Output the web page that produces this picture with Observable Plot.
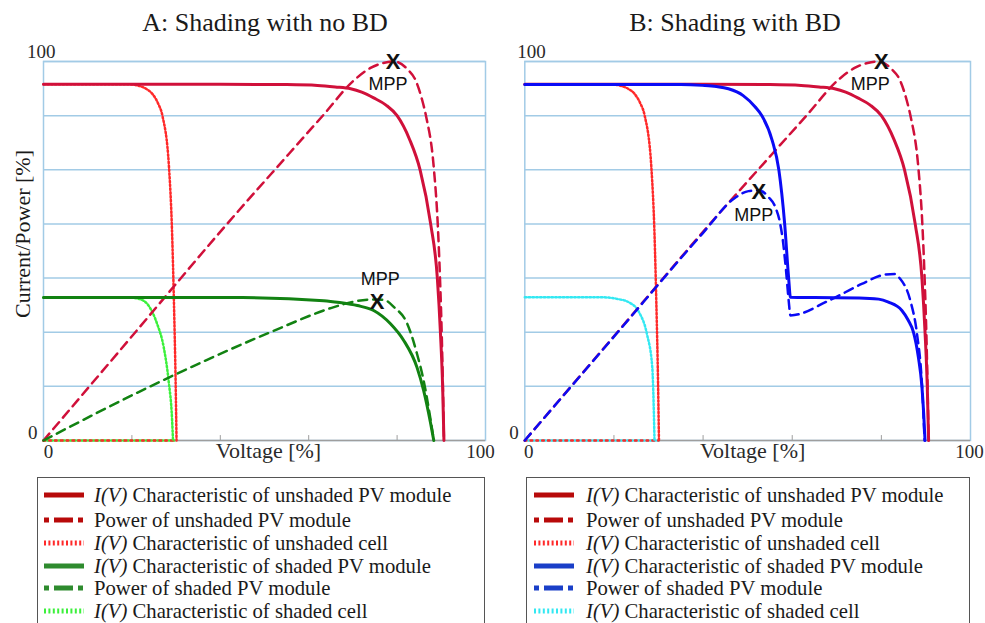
<!DOCTYPE html>
<html>
<head>
<meta charset="utf-8">
<script src="https://cdn.jsdelivr.net/npm/d3@7"></script>
<script src="https://cdn.jsdelivr.net/npm/@observablehq/plot@0.6"></script>
<style>
  body { margin: 0; background: #fff; }
  #root { position: relative; width: 985px; height: 623px; overflow: hidden; font-family: "Liberation Serif", "Times New Roman", serif; color: #1a1a1a; }
  .panel { position: absolute; top: 0; }
  .title { position: absolute; top: 8px; font-size: 26px; line-height: 30px; white-space: nowrap; transform: translateX(-50%); color: #1a1a1a; }
  .legend { position: absolute; top: 477px; height: 170px; border: 1px solid #555; background: #fff; box-sizing: border-box; }
  .row { position: absolute; left: 0; height: 24px; white-space: nowrap; font-size: 20.7px; line-height: 24px; color: #1a1a1a; }
  .row svg { position: absolute; top: 7px; }
  .row span.t { position: absolute; top: 0; }
</style>
</head>
<body>
<div id="root"></div>
<script>
// ---------- data ----------
const titles = ["A: Shading with no BD", "B: Shading with BD"];
const xAxisLabel = "Voltage [%]";
const yAxisLabel = "Current/Power [%]";
const edgeTickLabels = [0, 100];
const xMinorTicks = [20, 40, 60, 80];
const gridLevels = [14.29, 28.57, 42.86, 57.14, 71.43, 85.71, 100];

// Unshaded PV module I(V) (both panels)
const unshadedModuleV = [0, 40, 55, 62, 66, 69.5, 72, 74.7, 77.5, 80, 82.8, 85.2, 87.6, 89.1, 89.8, 90.3, 90.6];
const unshadedModuleI = [94, 94, 93.9, 93.7, 93.3, 92.8, 91.9, 90.4, 88.5, 85.7, 79.5, 71.4, 57.1, 42.9, 28.6, 14.3, 0];
// Power of unshaded PV module (both panels)
const unshadedPowerV = [0, 20, 41.5, 55.5, 63.4, 70.2, 74, 76.9, 79.3, 82.3, 84.2, 85.7, 86.6, 88.3, 89.2, 89.7, 90.1, 90.6];
const unshadedPowerP = [0, 27.5, 57.1, 75.6, 86, 95, 98.3, 99.6, 100, 98, 95, 89.7, 85.3, 72, 57, 43, 28, 0];
// Unshaded cell I(V) (both panels)
const unshadedCellV = [0, 19, 21.5, 23.2, 24.6, 25.9, 26.9, 28.4, 29.1, 29.5, 29.9, 30.1];
const unshadedCellI = [94, 94, 93.6, 92.8, 91.5, 89, 85.7, 72, 54.5, 37, 15, 0];
const cellBaseV = [0, 30];
const cellBaseI = [0, 0];

// Panel A: shaded PV module without bypass diode
const shadedModuleAV = [0, 45, 63.4, 67, 71, 74.7, 78.5, 81.5, 84.5, 86, 87.6, 88.3];
const shadedModuleAI = [37.7, 37.7, 36.9, 36.4, 35.6, 34.3, 30.8, 26.4, 19.3, 13.2, 4.4, 0];
const shadedPowerAV = [0, 24.2, 51.4, 65.7, 70, 74.7, 77, 79.3, 82.3, 84.5, 86, 87.6, 88.3];
const shadedPowerAP = [0, 14.3, 28.6, 35.2, 36.6, 37.2, 37.1, 35.2, 30.8, 22.9, 15.8, 5.3, 0];
const shadedCellAV = [0, 19.5, 21.5, 23.5, 25.7, 27.2, 28.3, 29.1, 29.3];
const shadedCellAI = [37.7, 37.7, 37.4, 36, 30.8, 24.6, 15.8, 5.3, 0];

// Panel B: shaded PV module with bypass diode
const shadedModuleBV = [0, 35, 39.8, 43, 45.7, 49, 51.7, 53.2, 55.5, 57, 58.3, 59.2, 59.6, 65, 75, 79.4, 81.6, 84.6, 86, 87.2, 88.3, 89.1, 89.5, 89.8];
const shadedModuleBI = [93.9, 93.9, 93.7, 93.4, 92.8, 91, 88, 85.7, 79.2, 71.4, 57.2, 42.8, 37.8, 37.7, 37.6, 37.3, 36.5, 34.3, 31.8, 28.6, 22, 14.2, 7, 0];
const shadedPowerBV = [0, 20, 40, 46.9, 50.2, 52.5, 54.7, 56.2, 57.3, 57.9, 58.6, 59.2, 59.6, 68.2, 75.6, 81, 83, 84.2, 86.5, 88, 89.1, 89.7];
const shadedPowerBP = [0, 27.4, 54.8, 63.8, 65.8, 66, 64.2, 61.6, 57.2, 52.8, 45, 37, 33, 36.9, 41.3, 43.8, 43.9, 42.7, 36.9, 28.1, 15, 0];
const shadedCellBV = [0, 17, 18.8, 21, 23.3, 25.6, 27.4, 28.6, 28.9, 29.1];
const shadedCellBI = [37.8, 37.8, 37.7, 37.3, 36.5, 33.9, 28.1, 19.3, 10, 0];

// Maximum power points
const mppAV = [79.1, 75.5];
const mppAP = [100, 36.5];
const mppBV = [80, 52.5];
const mppBP = [100, 65.5];

const legendLabels = [
  "I(V)| Characteristic of unshaded PV module",
  "|Power of unshaded PV module",
  "I(V)| Characteristic of unshaded cell",
  "I(V)| Characteristic of shaded PV module",
  "|Power of shaded PV module",
  "I(V)| Characteristic of shaded cell"
];

// ---------- styles ----------
const C = {
  red: "#d0103a", redCell: "#ff2a2a",
  green: "#128212", greenCell: "#3cf03c",
  blue: "#0b0bf5", cyan: "#33e8f2",
  grid: "#a2cbe6", axis: "#9e9e9e"
};
const legendColorsA = ["#b80a0a", "#b80a0a", "#ff2a2a", "#2e8b2e", "#2e8b2e", "#3cf03c"];
const legendColorsB = ["#b80a0a", "#b80a0a", "#ff2a2a", "#1a3fc8", "#1a3fc8", "#33e8f2"];
const kinds = ["solid", "dash", "dot", "solid", "dash", "dot"];

const pts = (vs, ys) => vs.map((v, i) => ({v, y: ys[i]}));
const solid = {strokeWidth: 3};
const dashed = {strokeWidth: 2.5, strokeDasharray: "9,6"};
const dotted = {strokeWidth: 2.5, strokeDasharray: "1.6,2.2"};

function panel(cfg) {
  const line = (vs, ys, stroke, style) =>
    Plot.line(pts(vs, ys), {x: "v", y: "y", stroke, curve: "monotone-x", ...style});
  const marks = [
    Plot.ruleY(gridLevels, {stroke: C.grid, strokeWidth: 1.5}),
    Plot.frame({stroke: C.grid, strokeWidth: 1.5}),
    Plot.ruleY([0], {stroke: C.axis, strokeWidth: 1.5}),
    Plot.ruleX(xMinorTicks, {y1: 0, y2: 1.3, stroke: C.axis, strokeWidth: 1}),
    // cells along the baseline
    line(cellBaseV, cellBaseI, cfg.cellColor, dotted),
    line(cellBaseV, cellBaseI, C.redCell, {...dotted, strokeDasharray: "1.6,4.2"}),
    // curves
    line(unshadedCellV, unshadedCellI, C.redCell, dotted),
    line(cfg.cellV, cfg.cellI, cfg.cellColor, dotted),
    line(unshadedPowerV, unshadedPowerP, C.red, dashed),
    line(cfg.powerV, cfg.powerP, cfg.color, dashed),
    line(unshadedModuleV, unshadedModuleI, C.red, solid),
    line(cfg.moduleV, cfg.moduleI, cfg.color, solid),
    // MPP markers
    Plot.text(pts(cfg.mppV, cfg.mppP), {x: "v", y: "y", text: () => "X", fontSize: 22, fontWeight: "bold", fontFamily: "Liberation Sans", fill: "#111"}),
    ...cfg.mppV.map((v, i) => Plot.text([{v, y: cfg.mppP[i]}], {x: "v", y: "y", text: () => "MPP", fontSize: 18, fontFamily: "Liberation Sans", fill: "#111", dx: cfg.mppDx[i], dy: cfg.mppDy[i]})),
    // tick labels
    Plot.text([edgeTickLabels[1]], {x: 0, y: d => d, text: d => String(d), textAnchor: "end", dx: cfg.y100dx, dy: -10, fontSize: 19, fill: "#2a2a2a"}),
    Plot.text([edgeTickLabels[0]], {x: 0, y: d => d, text: d => String(d), textAnchor: "end", dx: -6, dy: -8, fontSize: 19, fill: "#2a2a2a"}),
    Plot.text([edgeTickLabels[0]], {x: d => d, y: 0, text: d => String(d), dx: cfg.x0dx, dy: 11, fontSize: 19, fill: "#2a2a2a"}),
    Plot.text([edgeTickLabels[1]], {x: d => d, y: 0, text: d => String(d), dx: cfg.x100dx, dy: 11, fontSize: 19, fill: "#2a2a2a"}),
    Plot.text([xAxisLabel], {frameAnchor: "bottom", textAnchor: "middle", text: d => d, dx: cfg.xlabDx, dy: 17, fontSize: 22, fill: "#2a2a2a"})
  ];
  if (cfg.yLabel) {
    marks.push(Plot.text([yAxisLabel], {frameAnchor: "left", textAnchor: "middle", text: d => d, rotate: -90, dx: -21, dy: -17, fontSize: 22, fill: "#1a1a1a"}));
  }
  return Plot.plot({
    width: cfg.width, height: 470,
    marginLeft: cfg.marginLeft, marginRight: cfg.marginRight, marginTop: 61, marginBottom: 30,
    x: {domain: [0, 100], axis: null},
    y: {domain: [0, 100], axis: null},
    style: {fontFamily: "Liberation Serif", background: "transparent", overflow: "visible"},
    marks
  });
}

const root = document.getElementById("root");

const svgA = panel({
  width: 490, marginLeft: 43, marginRight: 5, color: C.green, cellColor: C.greenCell,
  moduleV: shadedModuleAV, moduleI: shadedModuleAI, powerV: shadedPowerAV, powerP: shadedPowerAP,
  cellV: shadedCellAV, cellI: shadedCellAI, mppV: mppAV, mppP: mppAP,
  mppDx: [-5, 3], mppDy: [23, -23], y100dx: 12, x0dx: 5, x100dx: -5, xlabDx: 4, yLabel: true
});
const svgB = panel({
  width: 495, marginLeft: 34.3, marginRight: 15, color: C.blue, cellColor: C.cyan,
  moduleV: shadedModuleBV, moduleI: shadedModuleBI, powerV: shadedPowerBV, powerP: shadedPowerBP,
  cellV: shadedCellBV, cellI: shadedCellBI, mppV: mppBV, mppP: mppBP,
  mppDx: [-11, -5], mppDy: [23, 23], y100dx: 21, x0dx: 4, x100dx: -1, xlabDx: 5, yLabel: false
});

[[svgA, 0], [svgB, 490]].forEach(([svg, left]) => {
  const wrap = document.createElement("div");
  wrap.className = "panel";
  wrap.style.left = left + "px";
  wrap.appendChild(svg);
  root.appendChild(wrap);
});

[[titles[0], 265], [titles[1], 735]].forEach(([t, cx]) => {
  const d = document.createElement("div");
  d.className = "title";
  d.style.left = cx + "px";
  d.textContent = t;
  root.appendChild(d);
});

function legend(left, width, colors, sampleLeft, textLeft) {
  const box = document.createElement("div");
  box.className = "legend";
  box.style.left = left + "px";
  box.style.width = width + "px";
  const rowTops = [5, 30, 53, 76, 98, 121];
  legendLabels.forEach((lab, i) => {
    const row = document.createElement("div");
    row.className = "row";
    row.style.top = rowTops[i] + "px";
    row.style.width = width + "px";
    const kind = kinds[i];
    const dash = kind === "dash" ? "5 5 19 5 5 100" : kind === "dot" ? "2 2.4" : null;
    const svg = `<svg width="44" height="10" style="left:${sampleLeft}px"><line x1="0" x2="40" y1="5" y2="5" stroke="${colors[i]}" stroke-width="5"${dash ? ` stroke-dasharray="${dash}"` : ""}/></svg>`;
    const [ital, rest] = lab.split("|");
    row.innerHTML = svg + `<span class="t" style="left:${textLeft}px">${ital ? `<i>${ital}</i>` : ""}${rest}</span>`;
    box.appendChild(row);
  });
  root.appendChild(box);
}
legend(37, 448, legendColorsA, 6, 56);
legend(526, 444, legendColorsB, 7, 59);
</script>
</body>
</html>
